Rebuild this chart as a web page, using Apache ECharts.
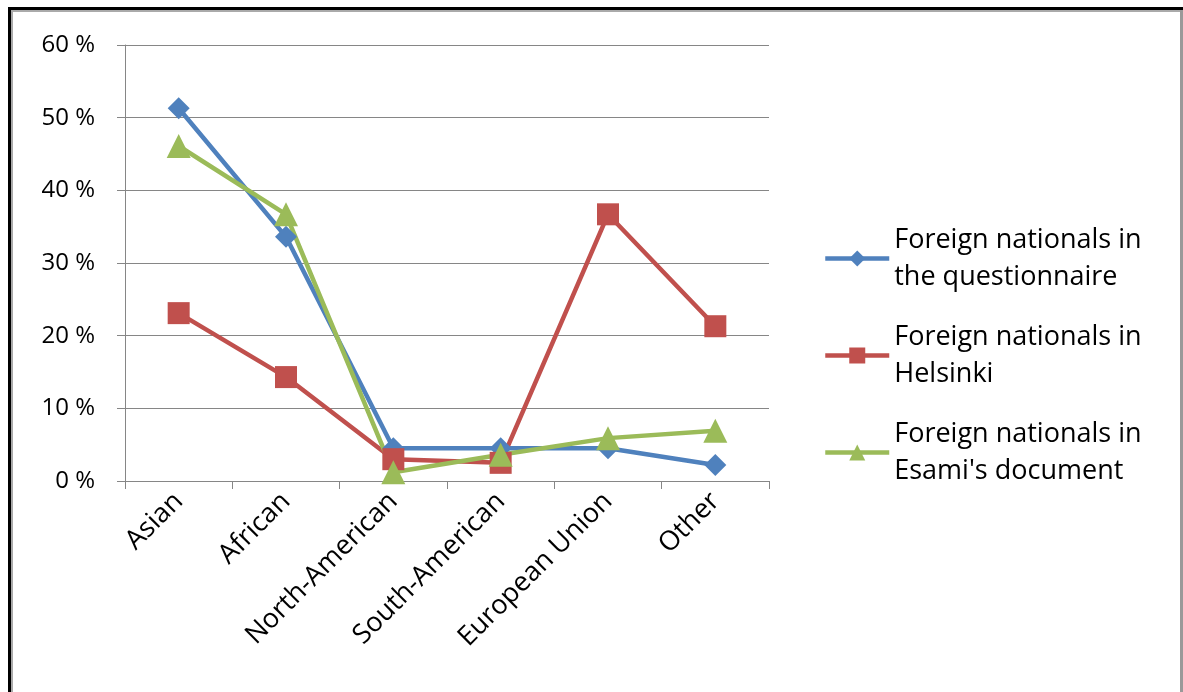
<!DOCTYPE html>
<html><head><meta charset="utf-8">
<script src="https://cdn.jsdelivr.net/npm/echarts@6/dist/echarts.min.js"></script>
<style>html,body{margin:0;padding:0;background:#fff}#c{width:1183px;height:692px}</style>
</head><body><div id="c"></div>
<script>
var categories = ['Asian','African','North-American','South-American','European Union','Other'];
var seriesNames = ['Foreign nationals in\nthe questionnaire','Foreign nationals in\nHelsinki','Foreign nationals in\nEsami\'s document'];
var questionnaire = [0.513, 0.336, 0.045, 0.045, 0.045, 0.022];
var helsinki = [0.231, 0.143, 0.030, 0.025, 0.367, 0.213];
var esami = [0.461, 0.367, 0.012, 0.036, 0.059, 0.069];
var yTicks = [0, 0.1, 0.2, 0.3, 0.4, 0.5, 0.6];

var font = 'Open Sans, Liberation Sans, sans-serif';
var chart = echarts.init(document.getElementById('c'));
function mk(name, data, color, symbol, size){
  return {name:name, type:'line', data:data, symbol:symbol, symbolSize:size,
    lineStyle:{color:color, width:4.5}, itemStyle:{color:color}, color:color, animation:false};
}
chart.setOption({
  animation:false,
  grid:{left:125, right:414, top:45, bottom:211},
  graphic:[
    {type:'rect', shape:{x:8,y:7,width:1200,height:3}, style:{fill:'#000'}},
    {type:'rect', shape:{x:8,y:7,width:3,height:700}, style:{fill:'#000'}},
    {type:'rect', shape:{x:11,y:10,width:2,height:700}, style:{fill:'#aaa'}},
    {type:'rect', shape:{x:11,y:10,width:1200,height:2}, style:{fill:'#aaa'}},
    {type:'rect', shape:{x:1180,y:10,width:3,height:700}, style:{fill:'#999'}}
  ],
  xAxis:{type:'category', data:categories, boundaryGap:true,
    axisLine:{lineStyle:{color:'#868686', width:1}},
    axisTick:{show:true, length:8, alignWithLabel:false, lineStyle:{color:'#868686'}},
    axisLabel:{rotate:45, fontSize:27, color:'#000', fontFamily:font, margin:16, interval:0}},
  yAxis:{type:'value', min:0, max:0.6, interval:0.1,
    axisLine:{show:true, lineStyle:{color:'#868686'}},
    axisTick:{show:true, length:8, lineStyle:{color:'#868686'}},
    splitLine:{lineStyle:{color:'#868686', width:1}},
    axisLabel:{fontSize:24, color:'#000', fontFamily:font, margin:30,
      formatter:function(v){return Math.round(v*100)+' %';}}},
  legend:{orient:'vertical', left:818, top:198, itemWidth:64, itemHeight:20, itemGap:-14,
    data:seriesNames,
    lineStyle:{width:4.5},
    textStyle:{fontSize:27, lineHeight:37, color:'#000', fontFamily:font, padding:[37,0,0,0]}},
  series:[
    mk(seriesNames[0], questionnaire, '#4F81BD', 'diamond', 22),
    mk(seriesNames[1], helsinki, '#C0504D', 'rect', 22),
    mk(seriesNames[2], esami, '#9BBB59', 'triangle', 24)
  ]
});
</script></body></html>
